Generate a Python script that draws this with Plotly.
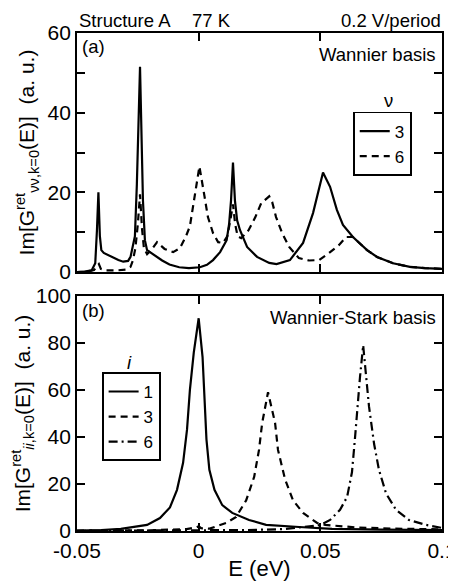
import plotly.graph_objects as go

# ---------------- data ----------------
# (a) Wannier basis, nu = 3
e_a3 = [-0.05, -0.047, -0.044, -0.0425, -0.0418, -0.0412, -0.0406, -0.0400, -0.039, -0.036,
        -0.033, -0.031, -0.029, -0.028, -0.0262, -0.0254, -0.0241, -0.0229, -0.0221, -0.0212,
        -0.019, -0.0171, -0.015, -0.012, -0.008, -0.004, 0.0005, 0.0034, 0.0059, 0.0088,
        0.0100, 0.0115, 0.0125, 0.0133, 0.0141, 0.0149, 0.0158, 0.0170, 0.0199, 0.0240,
        0.0290, 0.0320, 0.0375, 0.0429, 0.0470, 0.0490, 0.0511, 0.0540, 0.0568, 0.0593,
        0.0634, 0.0692, 0.0733, 0.0799, 0.0868, 0.0930, 0.1]
g_a3 = [0.0, 0.1, 0.4, 2.2, 10.5, 20.0, 9.0, 5.5, 4.8, 3.8,
        3.0, 2.6, 2.8, 3.8, 9.0, 22.0, 51.5, 18.0, 8.0, 5.5,
        4.6, 3.8, 2.9, 1.9, 1.2, 1.0, 1.2, 1.8, 3.0, 5.0,
        6.3, 8.0, 12.0, 18.0, 27.5, 18.0, 13.0, 10.5, 6.3, 3.8,
        2.3, 2.0, 3.0, 7.3, 14.8, 20.0, 25.0, 21.4, 15.6, 11.8,
        8.8, 5.5, 3.8, 2.2, 1.3, 1.0, 0.8]

# (a) Wannier basis, nu = 6
e_a6 = [-0.05, -0.046, -0.043, -0.0418, -0.0410, -0.0402, -0.038, -0.034, -0.030, -0.028,
        -0.027, -0.026, -0.025, -0.0241, -0.0233, -0.0225, -0.0212, -0.0195, -0.0171, -0.0140,
        -0.0105, -0.0077, -0.0052, -0.0036, -0.0020, 0.0003, 0.0024, 0.0038, 0.0059, 0.0080,
        0.0100, 0.0118, 0.0130, 0.0141, 0.0150, 0.0160, 0.0175, 0.0205, 0.0233, 0.0257,
        0.0290, 0.0302, 0.0318, 0.0343, 0.0372, 0.0412, 0.0453, 0.0495, 0.0536, 0.0577,
        0.0606, 0.0634, 0.0692, 0.0733, 0.0799, 0.0868, 0.0930, 0.1]
g_a6 = [0.0, 0.1, 0.5, 1.5, 2.0, 0.8, 0.4, 0.4, 0.6, 1.3,
        3.0, 6.0, 12.0, 19.5, 11.0, 6.0, 4.5, 5.5, 7.5, 5.8,
        5.0, 6.0, 9.0, 11.5, 18.0, 26.5, 19.0, 13.8, 9.8, 7.5,
        7.3, 9.0, 13.0, 17.0, 12.0, 9.0, 8.5, 10.5, 13.8, 17.3,
        19.0, 17.6, 13.8, 9.8, 6.3, 3.5, 2.9, 3.0, 4.8, 6.8,
        8.8, 8.8, 5.5, 3.8, 2.2, 1.3, 1.0, 0.8]

# (b) Wannier-Stark basis, i = 1
e_b1 = [-0.05, -0.040, -0.032, -0.0212, -0.0159, -0.0118, -0.0089, -0.0064, -0.0048, -0.0036,
        -0.0020, 0.0, 0.0016, 0.0024, 0.0032, 0.0044, 0.0065, 0.0097, 0.0138, 0.0207,
        0.0277, 0.0413, 0.0548, 0.075, 0.1]
g_b1 = [0.2, 0.4, 0.9, 2.6, 5.5, 10.0, 17.5, 29.0, 43.0, 60.0,
        76.0, 90.5, 74.0, 53.0, 39.0, 26.0, 17.5, 11.0, 7.7, 4.7,
        2.6, 1.7, 0.9, 0.6, 0.4]

# (b) Wannier-Stark basis, i = 3
e_b3 = [-0.05, -0.02, -0.005, -0.001, 0.0, 0.001, 0.0045, 0.0113, 0.0154, 0.0195,
        0.0228, 0.0248, 0.0261, 0.0285, 0.0314, 0.0326, 0.0355, 0.0388, 0.0429, 0.0487,
        0.052, 0.056, 0.065, 0.08, 0.1]
g_b3 = [0.1, 0.3, 0.8, 1.5, 2.0, 1.2, 1.0, 3.4, 6.0, 13.0,
        23.0, 34.5, 46.0, 59.0, 46.0, 34.5, 22.0, 13.0, 7.7, 3.4,
        2.6, 2.2, 1.5, 1.0, 0.7]

# (b) Wannier-Stark basis, i = 6
e_b6 = [-0.05, -0.01, 0.02, 0.035, 0.0416, 0.0458, 0.0499, 0.0540, 0.0581, 0.0610,
        0.0630, 0.0642, 0.0655, 0.0663, 0.0676, 0.0688, 0.0700, 0.0721, 0.0741, 0.0770,
        0.0811, 0.0864, 0.0934, 0.1]
g_b6 = [0.1, 0.2, 0.4, 0.8, 1.5, 1.8, 2.5, 4.7, 9.0, 14.5,
        25.0, 39.0, 56.0, 65.5, 79.0, 65.5, 53.0, 37.0, 26.0, 16.0,
        9.0, 4.7, 2.6, 1.3]

x_ticks = [-0.05, 0, 0.05, 0.1]
x_ticktext = ["-0.05", "0", "0.05", "0.1"]
ya_ticks = [0, 10, 20, 30, 40, 50, 60]
ya_ticktext = ["0", "", "20", "", "40", "", "60"]
yb_ticks = [0, 20, 40, 60, 80, 100]
yb_ticktext = ["0", "20", "40", "60", "80", "100"]

# ---------------- figure ----------------
# the page body has an 8px default margin, so the figure is 8px smaller
FONT = "Liberation Sans, Arial, Helvetica, sans-serif"
LW = 2.2

fig = go.Figure()
fig.add_trace(go.Scatter(x=e_a3, y=g_a3, mode="lines", name="3", xaxis="x", yaxis="y",
                         line=dict(color="black", width=LW), legend="legend"))
fig.add_trace(go.Scatter(x=e_a6, y=g_a6, mode="lines", name="6", xaxis="x", yaxis="y",
                         line=dict(color="black", width=LW, dash="7px,5px"), legend="legend"))
fig.add_trace(go.Scatter(x=e_b1, y=g_b1, mode="lines", name="1", xaxis="x2", yaxis="y2",
                         line=dict(color="black", width=LW), legend="legend2"))
fig.add_trace(go.Scatter(x=e_b3, y=g_b3, mode="lines", name="3", xaxis="x2", yaxis="y2",
                         line=dict(color="black", width=LW, dash="7px,5px"), legend="legend2"))
fig.add_trace(go.Scatter(x=e_b6, y=g_b6, mode="lines", name="6", xaxis="x2", yaxis="y2",
                         line=dict(color="black", width=LW, dash="9px,4px,2px,4px"), legend="legend2"))

axis_common = dict(showline=True, linecolor="black", linewidth=1.8, mirror="ticks",
                   ticks="inside", ticklen=8, tickwidth=1.5, tickcolor="black",
                   showgrid=False, zeroline=False, automargin=False,
                   ticklabeloverflow="allow",
                   tickfont=dict(family=FONT, size=21, color="black"))

fig.update_layout(
    width=448, height=575,
    margin=dict(l=69, r=14, t=25, b=52, autoexpand=False),
    paper_bgcolor="white", plot_bgcolor="white",
    font=dict(family=FONT, color="black"),
    xaxis=dict(domain=[0, 1], anchor="y", range=[-0.05, 0.1], tickvals=x_ticks,
               showticklabels=False, **axis_common),
    yaxis=dict(domain=[0.52, 1], anchor="x", range=[0, 60], tickvals=ya_ticks,
               ticktext=ya_ticktext,
               title=dict(text="Im[G<sup>ret</sup><sub>νν,k=0</sub>(E)]  (a. u.)",
                          font=dict(family=FONT, size=21), standoff=7),
               **axis_common),
    xaxis2=dict(domain=[0, 1], anchor="y2", range=[-0.05, 0.1], tickvals=x_ticks,
                ticktext=x_ticktext,
                title=dict(text="E (eV)", font=dict(family=FONT, size=22), standoff=0),
                **axis_common),
    yaxis2=dict(domain=[0, 0.472], anchor="x2", range=[0, 100], tickvals=yb_ticks,
                ticktext=yb_ticktext,
                title=dict(text="Im[G<sup>ret</sup><sub><i>ii</i>,k=0</sub>(E)]  (a. u.)",
                           font=dict(family=FONT, size=21), standoff=3),
                **axis_common),
    legend=dict(x=0.756, y=0.842, xanchor="left", yanchor="top",
                bordercolor="black", borderwidth=1.8, bgcolor="white",
                font=dict(family=FONT, size=17), tracegroupgap=0),
    legend2=dict(x=0.068, y=0.319, xanchor="left", yanchor="top",
                 bordercolor="black", borderwidth=1.8, bgcolor="white",
                 font=dict(family=FONT, size=17), tracegroupgap=0),
    showlegend=True,
)

ann_font = dict(family=FONT, size=18.5, color="black")
annotations = [
    dict(text="Structure A", x=0.0, y=1.025, xanchor="left", yanchor="middle"),
    dict(text="77 K", x=0.31, y=1.025, xanchor="left", yanchor="middle"),
    dict(text="0.2 V/period", x=1.003, y=1.025, xanchor="right", yanchor="middle"),
    dict(text="(a)", x=0.008, y=0.972, xanchor="left", yanchor="middle"),
    dict(text="Wannier basis", x=0.99, y=0.956, xanchor="right", yanchor="middle"),
    dict(text="(b)", x=0.008, y=0.442, xanchor="left", yanchor="middle"),
    dict(text="Wannier-Stark basis", x=0.99, y=0.428, xanchor="right", yanchor="middle"),
    dict(text="ν", x=0.853, y=0.864, xanchor="center", yanchor="middle"),
    dict(text="<i>i</i>", x=0.145, y=0.338, xanchor="center", yanchor="middle"),
]
for a in annotations:
    fig.add_annotation(xref="paper", yref="paper", showarrow=False, font=ann_font, **a)

fig.write_html("out.html")
